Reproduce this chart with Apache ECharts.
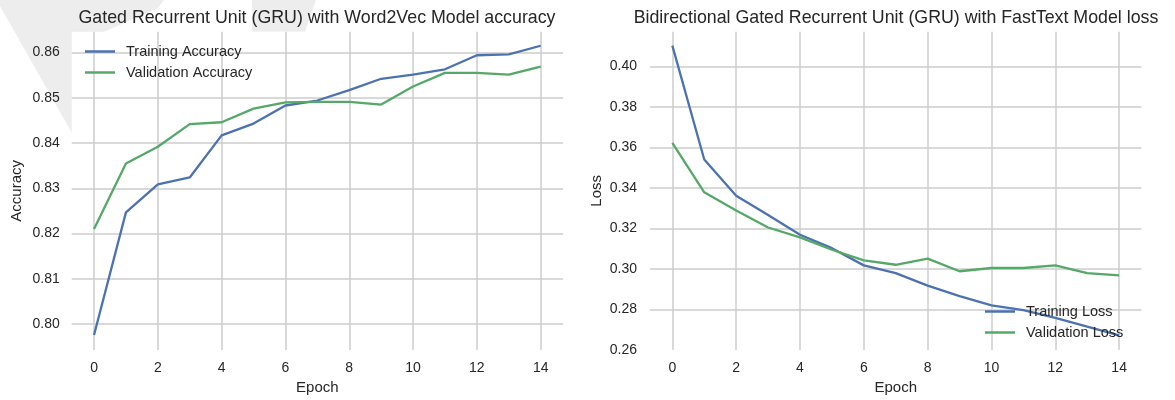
<!DOCTYPE html>
<html>
<head>
<meta charset="utf-8">
<script src="https://cdn.jsdelivr.net/npm/echarts@6/dist/echarts.min.js"></script>
<style>
  html, body { margin: 0; padding: 0; background: #fff; }
  #chart { width: 1175px; height: 400px; }
</style>
</head>
<body>
<div id="chart"></div>
<script>
// epochs
var epochs = [0, 1, 2, 3, 4, 5, 6, 7, 8, 9, 10, 11, 12, 13, 14];

// left: GRU + Word2Vec accuracy
var trainAcc = [0.7976, 0.8247, 0.8309, 0.8324, 0.8417, 0.8443, 0.8483, 0.8494,
                0.8517, 0.8542, 0.8551, 0.8563, 0.8594, 0.8596, 0.8615];
var valAcc = [0.8210, 0.8355, 0.8392, 0.8442, 0.8446, 0.8476, 0.8490, 0.8491,
              0.8491, 0.8485, 0.8525, 0.8555, 0.8555, 0.8551, 0.8569];

// right: BiGRU + FastText loss
var trainLoss = [0.4103, 0.3541, 0.3362, 0.3267, 0.3169, 0.3103, 0.3018, 0.2980,
                 0.2918, 0.2866, 0.2820, 0.2797, 0.2759, 0.2715, 0.2672];
var valLoss = [0.3623, 0.3379, 0.3289, 0.3205, 0.3156, 0.3095, 0.3043, 0.3021,
               0.3051, 0.2989, 0.3005, 0.3005, 0.3018, 0.2980, 0.2969];

var titles = ['Gated Recurrent Unit (GRU) with Word2Vec Model accuracy',
              'Bidirectional Gated Recurrent Unit (GRU) with FastText Model loss'];

function pairs(ys) {
    return epochs.map(function (e, i) { return [e, ys[i]]; });
}

var font = "'Liberation Sans', Arial, sans-serif";
var textColor = '#262626';
var gridColor = '#cccccc';
var blue = '#4C72B0';
var green = '#55A868';

function xAxis(idx) {
    return {
        type: 'value',
        gridIndex: idx,
        min: -0.7,
        max: 14.7,
        splitNumber: 7,
        name: 'Epoch',
        nameLocation: 'middle',
        nameGap: 29,
        nameTextStyle: { color: textColor, fontSize: 15, fontFamily: font },
        axisLine: { show: false },
        axisTick: { show: false },
        axisLabel: {
            color: textColor, fontSize: 14, fontFamily: font, margin: 11,
            showMinLabel: false, showMaxLabel: false
        },
        splitLine: {
            show: true, showMinLine: false, showMaxLine: false,
            lineStyle: { color: gridColor, width: 1.5 }
        }
    };
}

function legend(names, left, top) {
    return {
        data: names,
        orient: 'vertical',
        left: left, top: top,
        padding: 0,
        icon: 'rect',
        itemWidth: 30, itemHeight: 2.5, itemGap: 6,
        textStyle: { color: textColor, fontSize: 14.5, fontFamily: font, padding: [0, 0, 0, 6] }
    };
}

var chart = echarts.init(document.getElementById('chart'));

chart.setOption({
    animation: false,
    backgroundColor: '#fff',
    graphic: [
        // faint watermark outside the plot areas
        {
            type: 'polygon', silent: true, z: -1,
            shape: { points: [[0, 0], [164, 0], [158, 8], [72, 46], [72, 133], [0, 6]] },
            style: { fill: '#ededed' }
        },
        {
            type: 'polygon', silent: true, z: -1,
            shape: { points: [[252, 0], [316, 0], [305, 31.7], [252, 31.7]] },
            style: { fill: '#ededed' }
        },
        {
            type: 'text', x: 317, y: 18,
            style: { text: titles[0], fill: textColor, font: '17.8px ' + font,
                     textAlign: 'center', textVerticalAlign: 'middle' }
        },
        {
            type: 'text', x: 896, y: 18,
            style: { text: titles[1], fill: textColor, font: '17.8px ' + font,
                     textAlign: 'center', textVerticalAlign: 'middle' }
        }
    ],
    legend: [
        legend(['Training Accuracy', 'Validation Accuracy'], 85, 44),
        legend(['Training Loss', 'Validation Loss'], 985, 304)
    ],
    grid: [
        { left: 71.7, top: 31.7, width: 491.3, height: 318.3, show: true,
          backgroundColor: '#fff', borderWidth: 0 },
        { left: 650, top: 31.7, width: 491.5, height: 318.3, show: true,
          backgroundColor: '#fff', borderWidth: 0 }
    ],
    xAxis: [xAxis(0), xAxis(1)],
    yAxis: [
        {
            type: 'value', gridIndex: 0,
            min: 0.7943, max: 0.8646, splitNumber: 7,
            name: 'Accuracy', nameLocation: 'middle', nameGap: 47,
            nameTextStyle: { color: textColor, fontSize: 15, fontFamily: font },
            axisLine: { show: false }, axisTick: { show: false },
            axisLabel: {
                color: textColor, fontSize: 14, fontFamily: font, margin: 12,
                showMinLabel: false, showMaxLabel: false,
                formatter: function (v) { return v.toFixed(2); }
            },
            splitLine: { show: true, showMinLine: false, showMaxLine: false,
                         lineStyle: { color: gridColor, width: 1.5 } }
        },
        {
            type: 'value', gridIndex: 1,
            min: 0.26, max: 0.4172, interval: 0.02,
            name: 'Loss', nameLocation: 'middle', nameGap: 46,
            nameTextStyle: { color: textColor, fontSize: 15, fontFamily: font },
            axisLine: { show: false }, axisTick: { show: false },
            axisLabel: {
                color: textColor, fontSize: 14, fontFamily: font, margin: 13,
                showMinLabel: true, showMaxLabel: false,
                formatter: function (v) { return v.toFixed(2); }
            },
            splitLine: { show: true, showMinLine: false, showMaxLine: false,
                         lineStyle: { color: gridColor, width: 1.5 } }
        }
    ],
    series: [
        {
            name: 'Training Accuracy', type: 'line', xAxisIndex: 0, yAxisIndex: 0,
            data: pairs(trainAcc), symbol: 'none',
            lineStyle: { color: blue, width: 2.3 }, itemStyle: { color: blue }
        },
        {
            name: 'Validation Accuracy', type: 'line', xAxisIndex: 0, yAxisIndex: 0,
            data: pairs(valAcc), symbol: 'none',
            lineStyle: { color: green, width: 2.3 }, itemStyle: { color: green }
        },
        {
            name: 'Training Loss', type: 'line', xAxisIndex: 1, yAxisIndex: 1,
            data: pairs(trainLoss), symbol: 'none',
            lineStyle: { color: blue, width: 2.3 }, itemStyle: { color: blue }
        },
        {
            name: 'Validation Loss', type: 'line', xAxisIndex: 1, yAxisIndex: 1,
            data: pairs(valLoss), symbol: 'none',
            lineStyle: { color: green, width: 2.3 }, itemStyle: { color: green }
        }
    ]
});
</script>
</body>
</html>
